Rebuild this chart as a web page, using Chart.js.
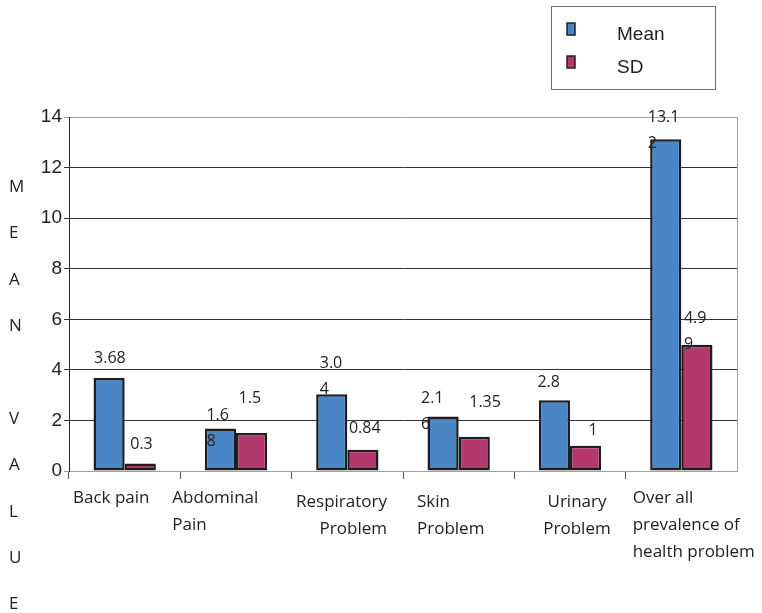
<!DOCTYPE html>
<html>
<head>
<meta charset="utf-8">
<script src="https://cdn.jsdelivr.net/npm/chart.js@4"></script>
<style>
  html, body { margin: 0; padding: 0; background: #ffffff; }
  #wrap { width: 762px; height: 613px; }
</style>
</head>
<body>
<div id="wrap"><canvas id="chart" width="762" height="613"></canvas></div>
<script>
// Health problems: mean and standard deviation per category
const categories = [
  ['Back pain'],
  ['Abdominal', 'Pain'],
  ['Respiratory', 'Problem'],
  ['Skin', 'Problem'],
  ['Urinary', 'Problem'],
  ['Over all', 'prevalence of', 'health problem']
];
const meanValues = [3.68, 1.68, 3.04, 2.16, 2.8, 13.12];
const sdValues = [0.3, 1.5, 0.84, 1.35, 1, 4.99];
const seriesNames = ['Mean', 'SD'];
const yTickValues = [0, 2, 4, 6, 8, 10, 12, 14];
const axisTitle = 'MEAN VALUE';

// Value labels that wrap their last digit onto a second line
const meanWrap = [false, true, true, true, false, true];
const sdWrap = [false, false, false, false, false, true];

// Label placement: [left offset from bar centre, first-line offset from bar top]
const meanLabelPos = [[-15, -20], [-14, -13], [-12, -31], [-22, -18], [-17, -18], [-18, -22]];
const sdLabelPos = [[-10, -19], [-13, -35], [-14, -21], [-5, -34], [3, -15], [-13, -26]];

// Category label layout: alignment and anchor offset within each category band
const catLabelLayout = [
  { align: 'left', dx: 4, dy: -2 },
  { align: 'left', dx: -8, dy: -2 },
  { align: 'right', dx: -16, dy: 2 },
  { align: 'left', dx: 14, dy: 2 },
  { align: 'center', dx: 7, dy: 2 },
  { align: 'left', dx: 7, dy: -2 }
];

const colors = ['#4a86c6', '#b5376f'];
const LABEL_FONT = '16px "Open Sans"';
const CAT_FONT = '17px "Open Sans"';

function wrapValue(v, wrap) {
  const s = String(v);
  return wrap && s.length > 1 ? [s.slice(0, -1), s.slice(-1)] : [s];
}

const overlay = {
  id: 'overlay',
  afterDatasetsDraw(chart) {
    const ctx = chart.ctx;
    ctx.save();
    ctx.font = LABEL_FONT;
    ctx.fillStyle = '#222222';
    ctx.textBaseline = 'middle';
    const sets = [[meanValues, meanWrap, meanLabelPos], [sdValues, sdWrap, sdLabelPos]];
    sets.forEach((set, di) => {
      const meta = chart.getDatasetMeta(di);
      meta.data.forEach((bar, j) => {
        const lines = wrapValue(set[0][j], set[1][j]);
        const pos = set[2][j];
        lines.forEach((ln, k) => {
          ctx.textAlign = 'left';
          ctx.fillText(ln, bar.x + pos[0], bar.y + pos[1] + k * 26);
        });
      });
    });
    ctx.restore();
  },
  afterDraw(chart) {
    const ctx = chart.ctx;
    const area = chart.chartArea;
    const xs = chart.scales.x;
    ctx.save();

    // right frame line of the plot area
    ctx.strokeStyle = '#a0a0a0';
    ctx.lineWidth = 1;
    ctx.beginPath();
    ctx.moveTo(Math.round(area.right) + 0.5, area.top);
    ctx.lineTo(Math.round(area.right) + 0.5, area.bottom);
    ctx.stroke();

    // category labels
    ctx.font = CAT_FONT;
    ctx.fillStyle = '#222222';
    ctx.textBaseline = 'middle';
    const band = (area.right - area.left) / categories.length;
    categories.forEach((lines, i) => {
      const c = xs.getPixelForValue(i);
      const lay = catLabelLayout[i];
      let x;
      if (lay.align === 'left') x = c - band / 2 + lay.dx;
      else if (lay.align === 'right') x = c + band / 2 + lay.dx;
      else x = c + lay.dx;
      ctx.textAlign = lay.align;
      lines.forEach((ln, k) => {
        ctx.fillText(ln, x, area.bottom + 29 + lay.dy + k * 27);
      });
    });

    // vertical axis title, one letter per row
    ctx.font = '17px "Open Sans"';
    ctx.textAlign = 'left';
    axisTitle.split('').forEach((ch, k) => {
      if (ch !== ' ') ctx.fillText(ch, 9, 187 + k * 46.4);
    });

    // legend box
    const lx = 551, ly = 6, lw = 164, lh = 83;
    ctx.fillStyle = '#ffffff';
    ctx.fillRect(lx, ly, lw, lh);
    ctx.strokeStyle = '#707070';
    ctx.lineWidth = 1;
    ctx.strokeRect(lx + 0.5, ly + 0.5, lw, lh);
    chart.data.datasets.forEach((ds, i) => {
      const cy = 29 + i * 33;
      ctx.fillStyle = ds.backgroundColor;
      ctx.fillRect(567, cy - 6, 8, 12);
      ctx.strokeStyle = '#222222';
      ctx.lineWidth = 1.5;
      ctx.strokeRect(567, cy - 6, 8, 12);
      ctx.fillStyle = '#222222';
      ctx.font = '19px "Liberation Sans"';
      ctx.textAlign = 'left';
      ctx.fillText(ds.label, 617, cy + 6);
    });
    ctx.restore();
  }
};

new Chart(document.getElementById('chart'), {
  type: 'bar',
  data: {
    labels: categories.map(c => c.join(' ')),
    datasets: [
      { label: seriesNames[0], data: meanValues, backgroundColor: colors[0], borderColor: '#1e1e1e', borderWidth: 2.5, borderSkipped: false },
      { label: seriesNames[1], data: sdValues, backgroundColor: colors[1], borderColor: '#1e1e1e', borderWidth: 2.5, borderSkipped: false }
    ]
  },
  options: {
    responsive: false,
    animation: false,
    layout: { padding: { top: 117, right: 25, left: 0, bottom: 0 } },
    datasets: { bar: { categoryPercentage: 0.56, barPercentage: 1 } },
    plugins: { legend: { display: false }, tooltip: { enabled: false } },
    scales: {
      x: {
        offset: true,
        grid: {
          display: true, offset: true, drawOnChartArea: false, drawTicks: true, tickLength: 8,
          // tick marks only at the left edge of each category band
          color: c => c.tick ? '#555555' : 'rgba(0,0,0,0)'
        },
        border: { display: true, color: '#a0a0a0' },
        ticks: { display: false },
        afterFit(s) { s.height = 142; }
      },
      y: {
        min: 0,
        max: 14,
        afterBuildTicks(s) { s.ticks = yTickValues.map(v => ({ value: v })); },
        ticks: { color: '#222222', padding: 2, font: { family: 'Liberation Sans', size: 19 } },
        grid: {
          color: c => (c.tick && (c.tick.value === 0 || c.tick.value === 14)) ? '#a0a0a0' : '#333333',
          tickLength: 5
        },
        border: { display: true, color: '#222222', width: 1 },
        afterFit(s) { s.width = 69; }
      }
    }
  },
  plugins: [overlay]
});
</script>
</body>
</html>
